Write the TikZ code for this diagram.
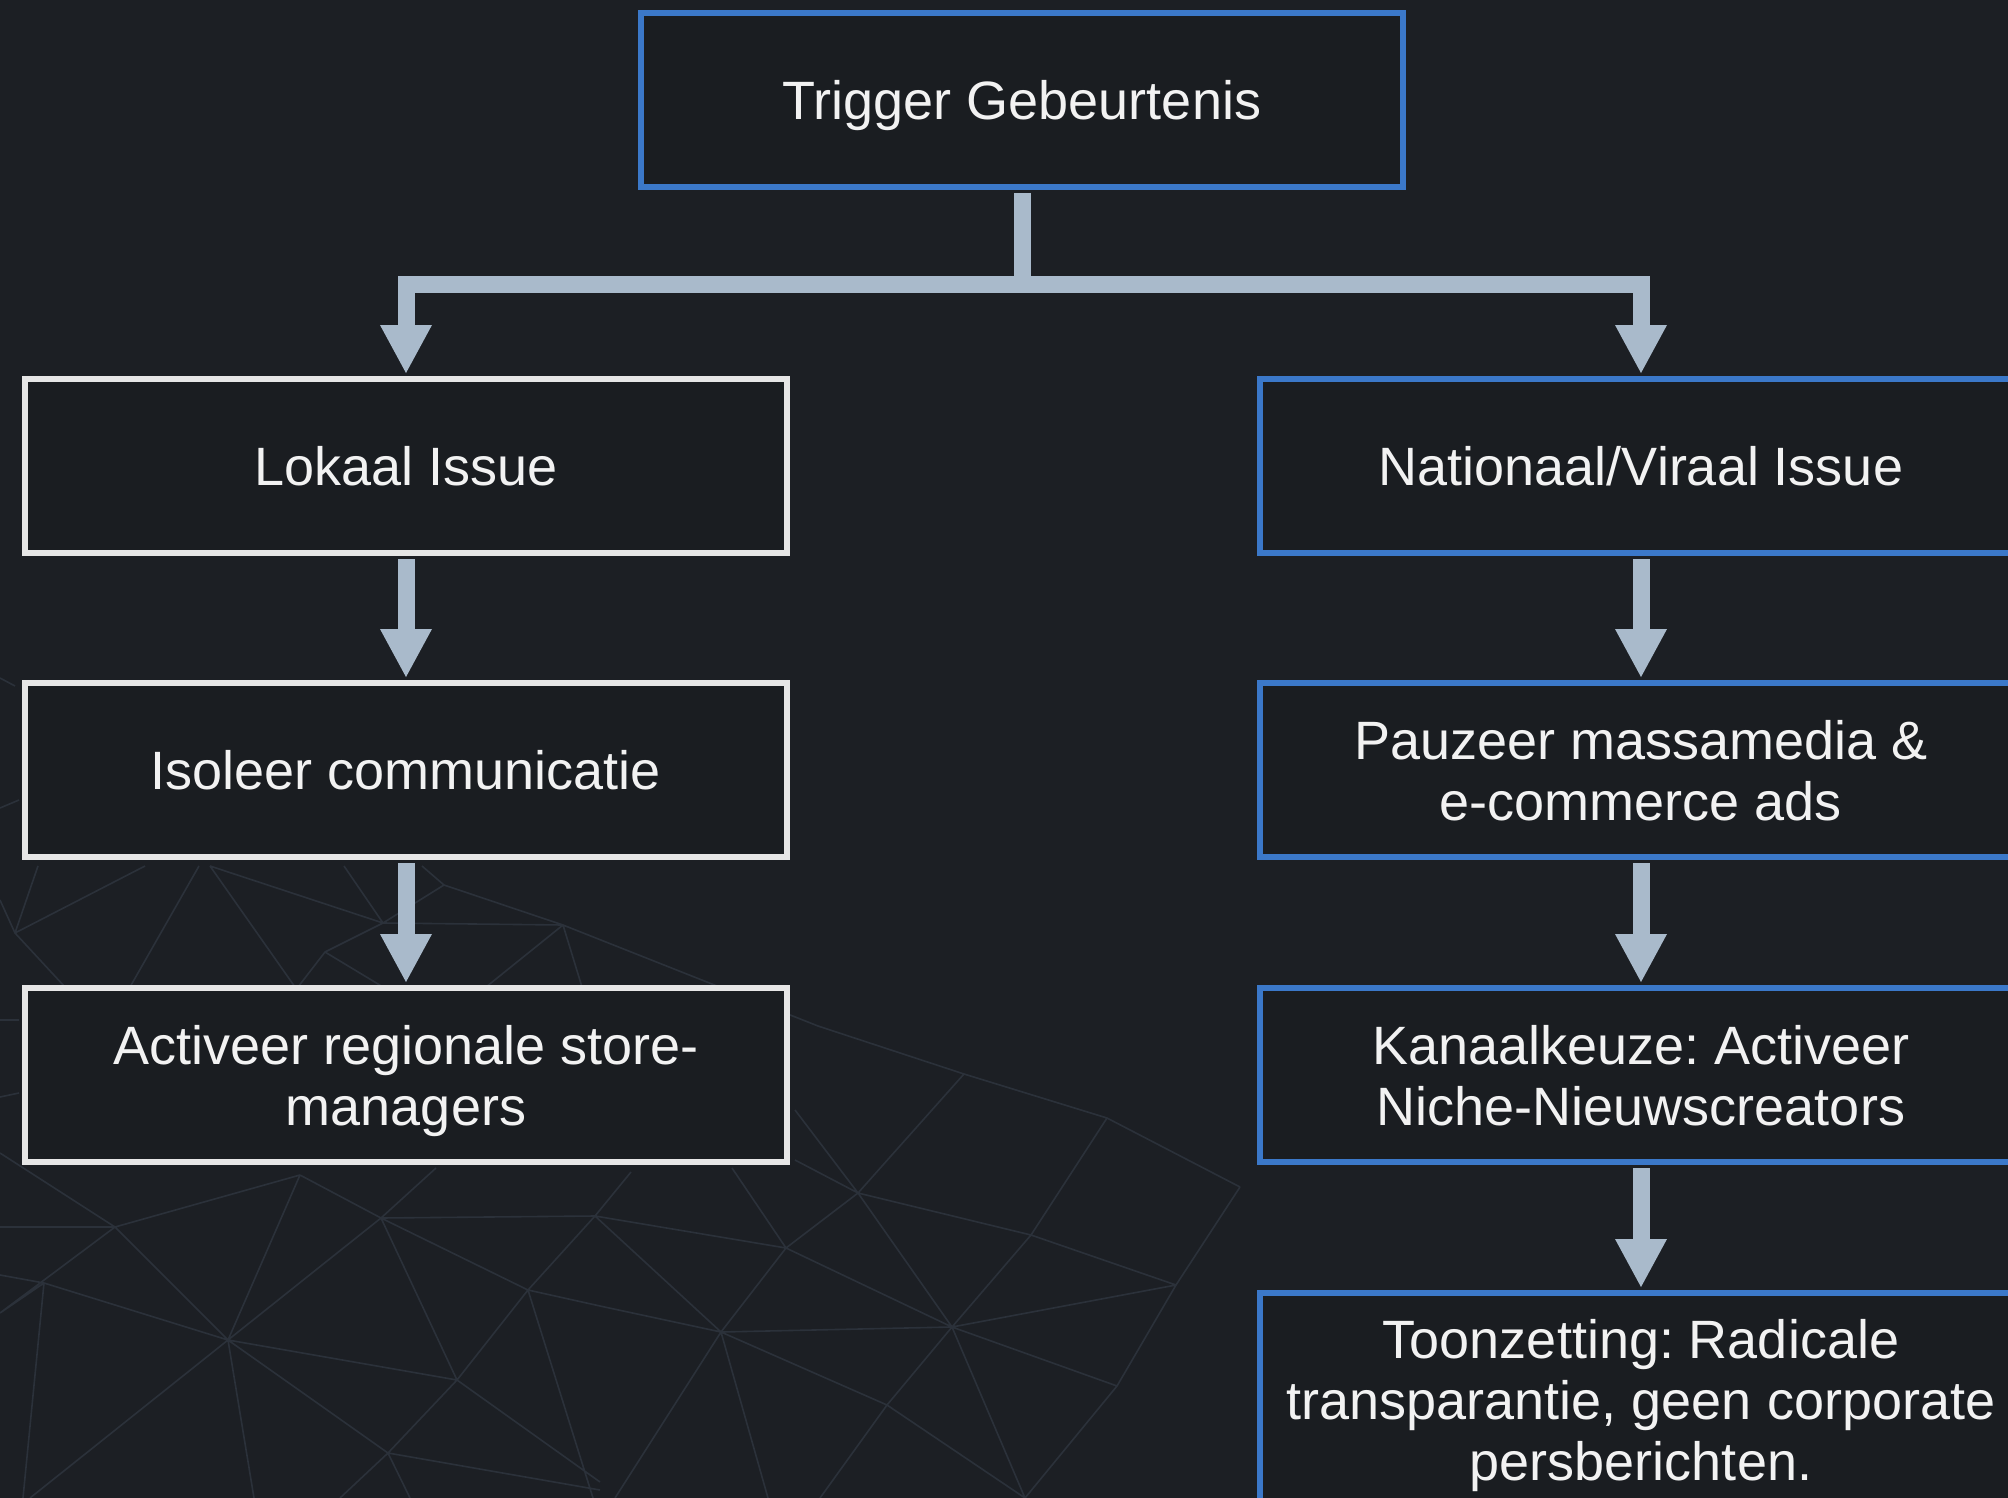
\documentclass[tikz,border=0pt]{standalone}
\usepackage{fontspec}
\setmainfont{Liberation Sans}
\frenchspacing
\usetikzlibrary{arrows.meta}
\definecolor{bg}{HTML}{1C1F24}
\definecolor{boxfill}{HTML}{1A1D21}
\definecolor{blueb}{HTML}{3B78C9}
\definecolor{whiteb}{HTML}{E6E6E6}
\definecolor{arrowc}{HTML}{A9BACB}
\definecolor{meshc}{HTML}{2B313A}
\definecolor{txt}{HTML}{F2F2F2}
\begin{document}
\begin{tikzpicture}[x=1pt,y=-1pt,
  box/.style={draw, line width=6pt, fill=boxfill, minimum width=762pt, minimum height=174pt,
    inner sep=0pt, align=center, text=txt, text depth=0pt, font=\fontsize{54}{61}\selectfont},
  bluebox/.style={box, draw=blueb},
  whitebox/.style={box, draw=whiteb},
  flowline/.style={draw=arrowc, line width=17pt},
  flow/.style={flowline, -{Triangle[width=52pt,length=48pt,line width=0pt]}, shorten <=3pt, shorten >=3pt},
  mesh/.style={draw=meshc, line width=1.6pt}]
\useasboundingbox (0,0) rectangle (2008,1498);
\clip (0,0) rectangle (2008,1498);
\fill[bg] (0,0) rectangle (2008,1498);

% background mesh
\draw[mesh]
 (0,678)--(15,686) (0,808)--(19,800) (0,900)--(15,933)
 (15,933)--(145,866) (15,933)--(38,866) (15,933)--(65,987)
 (130,987)--(199,866) (210,866)--(383,923) (210,866)--(295,987)
 (325,952)--(383,923) (325,952)--(298,987) (325,952)--(383,987)
 (344,866)--(383,923) (383,923)--(444,885) (444,885)--(563,925)
 (383,923)--(563,925) (563,925)--(486,987) (563,925)--(582,987)
 (422,866)--(444,885) (563,925)--(818,1026)
 (0,1020)--(19,1020) (0,1097)--(19,1093)
 % lower left
 (300,1175)--(115,1227) (300,1175)--(381,1218) (300,1175)--(228,1340)
 (115,1227)--(228,1340) (115,1227)--(0,1313) (115,1227)--(0,1227) (115,1227)--(0,1153)
 (44,1283)--(228,1340) (44,1283)--(0,1275) (44,1283)--(23,1498) (44,1283)--(0,1313)
 (381,1218)--(228,1340) (381,1218)--(595,1216) (381,1218)--(528,1290)
 (381,1218)--(457,1380) (381,1218)--(436,1168)
 (228,1340)--(457,1380) (228,1340)--(254,1498) (228,1340)--(30,1498) (228,1340)--(388,1453)
 (457,1380)--(528,1290) (457,1380)--(388,1453) (457,1380)--(600,1482)
 (528,1290)--(595,1216) (528,1290)--(600,1306) (528,1290)--(593,1498)
 (388,1453)--(340,1498) (388,1453)--(410,1498) (388,1453)--(600,1490)
 % middle
 (595,1216)--(786,1248) (595,1216)--(721,1332) (631,1172)--(595,1216)
 (721,1332)--(786,1248) (721,1332)--(600,1306) (721,1332)--(887,1405)
 (721,1332)--(615,1498) (721,1332)--(768,1498) (721,1332)--(952,1327)
 (786,1248)--(952,1327) (786,1248)--(858,1193) (786,1248)--(732,1168)
 (858,1193)--(795,1110) (858,1193)--(964,1074) (858,1193)--(1031,1235)
 (858,1193)--(952,1327) (858,1193)--(795,1160)
 (818,1026)--(964,1074) (964,1074)--(1107,1118) (1107,1118)--(1240,1187)
 (1107,1118)--(1031,1235) (1031,1235)--(1176,1285) (1031,1235)--(952,1327)
 (1176,1285)--(1240,1187) (952,1327)--(1176,1285) (952,1327)--(1117,1386)
 (1176,1285)--(1117,1386) (952,1327)--(887,1405) (952,1327)--(1025,1498)
 (1117,1386)--(1025,1498) (887,1405)--(820,1498) (887,1405)--(1025,1498);

% nodes
\node[bluebox] (trig) at (1022,100) {Trigger Gebeurtenis};
\node[whitebox] (lok) at (406,466) {Lokaal Issue};
\node[whitebox] (iso) at (406,770) {Isoleer communicatie};
\node[whitebox] (act) at (406,1075) {Activeer regionale store-\\managers};
\node[bluebox] (nat) at (1641,466) {Nationaal/Viraal Issue};
\node[bluebox] (pau) at (1641,770) {Pauzeer massamedia \&\\e-commerce ads};
\node[bluebox] (kan) at (1641,1075) {Kanaalkeuze: Activeer\\Niche-Nieuwscreators};
\node[bluebox, minimum height=214pt] (toon) at (1641,1400) {Toonzetting: Radicale\\transparantie, geen corporate\\persberichten.};

% connectors
\coordinate (bar) at (1022,284);
\draw[flowline] ([yshift=-3pt]trig.south) -- (bar);
\draw[flow, shorten <=0pt] (bar) -| (lok.north);
\draw[flow, shorten <=0pt] (bar) -| (nat.north);
\draw[flow] (lok.south) -- (iso.north);
\draw[flow] (iso.south) -- (act.north);
\draw[flow] (nat.south) -- (pau.north);
\draw[flow] (pau.south) -- (kan.north);
\draw[flow] (kan.south) -- (toon.north);
\end{tikzpicture}
\end{document}
